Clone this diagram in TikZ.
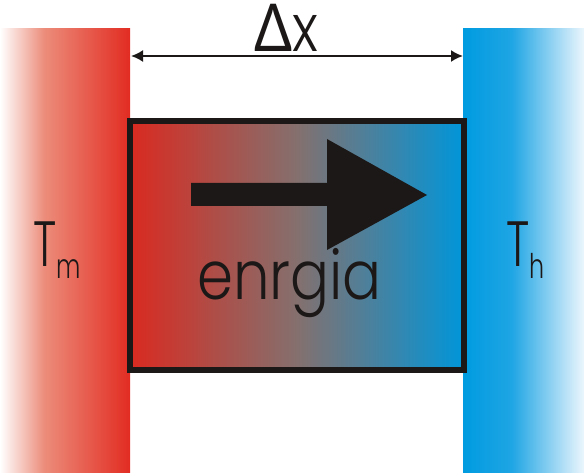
\documentclass[tikz,border=0pt]{standalone}
\usepackage{fontspec}
\usetikzlibrary{arrows.meta}
\newfontfamily\pop{Poppins Light}
\newfontfamily\grk{Lato}
\definecolor{cRed}{RGB}{218,42,32}
\definecolor{cMid}{RGB}{132,112,110}
\definecolor{cBlue}{RGB}{0,150,218}
\definecolor{hRed}{RGB}{226,44,34}
\definecolor{hPink}{RGB}{236,140,122}
\definecolor{hBlue}{RGB}{0,155,224}
\definecolor{hBlue2}{RGB}{30,165,228}
\definecolor{hPale}{RGB}{236,246,253}
\definecolor{ink}{RGB}{28,24,24}
\pgfdeclarehorizontalshading{boxshade}{100bp}{color(0bp)=(cRed); color(25bp)=(cRed); color(50bp)=(cMid); color(75bp)=(cBlue); color(100bp)=(cBlue)}
\pgfdeclarehorizontalshading{hotshade}{100bp}{color(0bp)=(white); color(25bp)=(white); color(42bp)=(hPink); color(75bp)=(hRed); color(100bp)=(hRed)}
\pgfdeclarehorizontalshading{coldshade}{100bp}{color(0bp)=(hBlue); color(25bp)=(hBlue); color(45bp)=(hBlue2); color(75bp)=(hPale); color(100bp)=(hPale)}
\tikzset{
  bar/.style={inner sep=0pt, outer sep=0pt, minimum width=#1, minimum height=444pt},
  lbl/.style={inner sep=0pt, text=ink},
  dim/.style={ink, line width=2pt, >={Latex[length=12pt,width=12pt]}, <->},
}
\begin{document}
\begin{tikzpicture}[x=1pt,y=-1pt]
\useasboundingbox (0,0) rectangle (584,473);
\fill[white] (0,0) rectangle (584,473);
\node[bar=130pt, shading=hotshade] (hot) at (65,251) {};
\node[bar=121pt, shading=coldshade] (cold) at (523.5,251) {};
\node[draw=ink, line width=6pt, inner sep=0pt, minimum width=334pt, minimum height=249pt, shading=boxshade] (box) at (297,245.5) {};
\fill[ink] (191,183) -- (327,183) -- (327,139) -- (427,195) -- (327,250) -- (327,206) -- (191,206) -- cycle;
\node[lbl, anchor=base west, xscale=0.85, font={\pop\fontsize{68}{68}\selectfont}] (en) at (197,300) {enrgia};
\coordinate (a) at (131,56);
\coordinate (b) at (463,56);
\draw[dim] (a) -- (b);
\node[lbl, anchor=base west, xscale=0.85, font={\fontsize{66}{66}\selectfont}] (dx) at (254,52) {{\grk\char"0394}{\pop x}};
\node[lbl, anchor=base west, xscale=0.7, font={\pop\fontsize{64}{64}\selectfont}] (tm) at (33,267) {T\raisebox{-12pt}{\fontsize{34}{34}\selectfont m}};
\node[lbl, anchor=base west, xscale=0.7, font={\pop\fontsize{64}{64}\selectfont}] (th) at (506,267) {T\raisebox{-12pt}{\fontsize{34}{34}\selectfont h}};
\end{tikzpicture}
\end{document}
